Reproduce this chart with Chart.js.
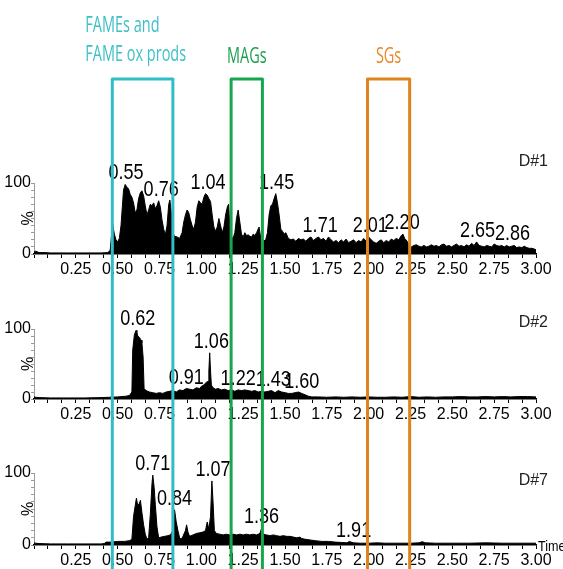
<!DOCTYPE html>
<html>
<head>
<meta charset="utf-8">
<script src="https://cdn.jsdelivr.net/npm/chart.js@4.4.1/dist/chart.umd.min.js"></script>
<style>
  html, body { margin: 0; padding: 0; background: #fff; }
  #wrap { position: relative; width: 563px; height: 569px; overflow: hidden; }
  #wrap canvas { position: absolute; left: 0; top: 0; }
</style>
</head>
<body>
<div id="wrap">
  <canvas id="c1" width="563" height="569"></canvas>
  <canvas id="c2" width="563" height="569"></canvas>
  <canvas id="c3" width="563" height="569"></canvas>
</div>
<script>
// ---- data: [retention time (min), relative intensity (%)] ----
const d1Trace = [
  [0.00,3],[0.01,4],[0.02,3],[0.03,2],[0.06,2],[0.10,1.5],[0.20,1.5],[0.30,1.5],[0.40,1.5],[0.44,2],
  [0.455,5],[0.465,30],[0.47,42],[0.48,28],[0.49,20],[0.50,17],[0.51,22],[0.52,40],[0.535,90],[0.545,98],
  [0.555,94],[0.565,92],[0.575,84],[0.585,80],[0.595,72],[0.605,58],[0.615,62],[0.625,78],[0.635,86],[0.645,89],
  [0.655,82],[0.665,68],[0.675,55],[0.685,62],[0.695,70],[0.705,68],[0.715,72],[0.725,64],[0.735,68],[0.745,75],
  [0.755,66],[0.765,48],[0.775,35],[0.785,27],[0.795,40],[0.805,70],[0.812,76],[0.82,60],[0.83,30],[0.84,25],
  [0.855,24],[0.87,22],[0.885,30],[0.895,45],[0.905,55],[0.915,62],[0.925,58],[0.935,48],[0.945,40],[0.955,35],
  [0.965,45],[0.975,66],[0.985,75],[0.995,72],[1.005,70],[1.015,80],[1.025,85],[1.035,83],[1.045,78],[1.055,74],
  [1.065,55],[1.075,38],[1.085,32],[1.095,38],[1.105,50],[1.115,40],[1.125,30],[1.135,38],[1.145,55],[1.155,66],
  [1.163,70],[1.17,40],[1.18,24],[1.19,22],[1.20,30],[1.21,50],[1.22,62],[1.23,45],[1.24,28],[1.25,24],
  [1.26,30],[1.27,26],[1.28,27],[1.29,25],[1.30,24],[1.31,28],[1.32,26],[1.33,30],[1.345,38],[1.355,22],
  [1.37,18],[1.385,20],[1.395,30],[1.405,55],[1.415,68],[1.425,70],[1.435,78],[1.445,85],[1.455,72],[1.465,55],
  [1.475,35],[1.485,32],[1.495,28],[1.505,30],[1.52,22],[1.535,20],[1.55,21],[1.565,18],[1.58,22],[1.595,20],
  [1.61,21],[1.625,18],[1.64,22],[1.655,24],[1.67,19],[1.685,22],[1.70,24],[1.715,20],[1.73,22],[1.745,18],
  [1.76,24],[1.775,20],[1.79,17],[1.805,19],[1.82,16],[1.835,20],[1.85,17],[1.865,21],[1.88,16],[1.895,18],
  [1.91,20],[1.925,16],[1.94,19],[1.955,17],[1.97,22],[1.985,18],[2.00,24],[2.015,20],[2.03,17],[2.045,15],
  [2.06,18],[2.075,20],[2.09,16],[2.105,19],[2.12,17],[2.135,21],[2.15,19],[2.165,22],[2.18,20],[2.195,26],
  [2.205,28],[2.215,22],[2.23,18],[2.24,12],[2.255,10],[2.27,12],[2.285,13],[2.30,11],[2.315,10],[2.33,12],
  [2.345,10],[2.36,11],[2.375,13],[2.39,11],[2.405,12],[2.42,10],[2.435,13],[2.45,14],[2.465,11],[2.48,12],
  [2.495,10],[2.51,12],[2.525,14],[2.54,11],[2.555,12],[2.57,10],[2.585,13],[2.60,11],[2.615,15],[2.63,12],
  [2.645,17],[2.66,12],[2.675,11],[2.69,10],[2.705,12],[2.72,11],[2.735,10],[2.75,14],[2.765,12],[2.78,11],
  [2.795,12],[2.81,10],[2.825,12],[2.84,10],[2.855,11],[2.87,12],[2.885,9],[2.90,10],[2.915,9],[2.93,11],
  [2.945,9],[2.96,8],[2.975,8],[2.99,7],[3.00,6]
];
const d2Trace = [
  [0.00,3],[0.01,2.5],[0.03,2],[0.10,1.5],[0.20,1.5],[0.30,1.5],[0.40,2],[0.45,2.5],[0.50,3],[0.55,4],
  [0.57,5],[0.585,10],[0.59,70],[0.60,92],[0.61,98],[0.615,95],[0.62,90],[0.63,88],[0.64,84],[0.645,80],
  [0.652,60],[0.658,15],[0.67,12],[0.69,10],[0.71,9],[0.73,8],[0.75,9],[0.77,8],[0.79,10],[0.81,11],
  [0.83,12],[0.85,10],[0.87,13],[0.89,12],[0.91,15],[0.93,14],[0.95,13],[0.97,16],[0.99,15],[1.00,18],
  [1.015,20],[1.03,24],[1.04,25],[1.045,40],[1.05,66],[1.055,40],[1.06,20],[1.07,16],[1.085,14],[1.10,15],
  [1.12,13],[1.14,14],[1.16,12],[1.18,13],[1.20,11],[1.22,13],[1.24,12],[1.26,13],[1.28,12],[1.30,11],
  [1.32,12],[1.34,10],[1.36,11],[1.38,10],[1.40,11],[1.42,12],[1.44,9],[1.46,12],[1.48,10],[1.50,9],
  [1.52,8],[1.54,8],[1.56,9],[1.58,10],[1.60,8],[1.62,6],[1.64,4],[1.66,3],[1.70,3],[1.75,2.5],
  [1.80,3],[1.85,2.5],[1.90,3],[1.95,2.5],[2.00,3],[2.05,2.5],[2.10,2.5],[2.15,3],[2.20,2.5],[2.25,3.5],
  [2.30,2.5],[2.35,3],[2.40,2.5],[2.45,3],[2.50,3],[2.55,3.5],[2.60,3],[2.65,3],[2.70,3.5],[2.75,3],
  [2.80,3.5],[2.85,3],[2.90,3.5],[2.95,3.5],[3.00,3]
];
const d7Trace = [
  [0.00,3],[0.01,2.5],[0.03,2],[0.10,1.5],[0.20,1.5],[0.30,1.5],[0.40,1.5],[0.42,2],[0.43,4],[0.46,4],
  [0.50,5],[0.54,5],[0.57,6],[0.585,8],[0.595,40],[0.605,55],[0.612,65],[0.62,55],[0.63,58],[0.636,62],
  [0.645,45],[0.655,28],[0.665,15],[0.675,8],[0.685,10],[0.695,42],[0.705,85],[0.71,97],[0.718,80],[0.725,56],
  [0.735,25],[0.745,10],[0.76,11],[0.78,12],[0.80,13],[0.815,14],[0.83,20],[0.84,49],[0.85,32],[0.86,20],
  [0.87,10],[0.88,8],[0.89,12],[0.905,20],[0.912,28],[0.92,18],[0.93,12],[0.95,14],[0.97,16],[0.99,17],
  [1.01,18],[1.025,20],[1.035,32],[1.045,22],[1.055,40],[1.063,89],[1.07,60],[1.078,20],[1.09,16],[1.11,15],
  [1.13,14],[1.15,15],[1.17,14],[1.19,15],[1.21,14],[1.23,15],[1.25,14],[1.27,15],[1.29,14],[1.31,15],
  [1.33,14],[1.35,16],[1.36,23],[1.37,15],[1.39,14],[1.41,13],[1.43,14],[1.45,13],[1.47,12],[1.49,13],
  [1.51,12],[1.53,12],[1.55,11],[1.57,10],[1.59,11],[1.60,9],[1.62,8],[1.65,7],[1.68,6],[1.72,5],
  [1.76,5],[1.80,4],[1.84,3.5],[1.87,3],[1.885,5],[1.895,4],[1.91,3],[1.95,2.5],[2.00,2.5],[2.05,3],
  [2.10,2.5],[2.15,2.5],[2.20,2.5],[2.25,2.5],[2.30,3],[2.32,4.5],[2.34,3],[2.40,2.5],[2.50,2.5],[2.60,2.5],
  [2.70,3],[2.80,2.5],[2.90,2.5],[3.00,2.5]
];

// labelled peak retention times
const d1Peaks = [0.55, 0.76, 1.04, 1.45, 1.71, 2.01, 2.20, 2.65, 2.86];
const d2Peaks = [0.62, 0.91, 1.06, 1.22, 1.43, 1.60];
const d7Peaks = [0.71, 0.84, 1.07, 1.36, 1.91];

// sample names
const sampleNames = ['D#1', 'D#2', 'D#7'];

// axis tick labels
const xTickLabels = ['0.25','0.50','0.75','1.00','1.25','1.50','1.75','2.00','2.25','2.50','2.75','3.00'];
const yTickLabels = [0, 100];

// retention windows of compound classes (min)
const windowRanges = [[0.468, 0.830], [1.178, 1.365], [1.993, 2.245]];
const windowTitles = [['FAMEs and', 'FAME ox prods'], ['MAGs'], ['SGs']];

// ---- styling ----
const NARROW = "'Liberation Sans Narrow', 'Arial Narrow', 'Liberation Sans', sans-serif";
const TITLE_FONT = "'Open Sans', 'Lato', sans-serif";
const windowStroke = ['#30bdc6', '#17a64d', '#df831c'];
const windowText = ['#3ec0c8', '#1a9f4f', '#e8892a'];
const W = 563, H = 569, AXIS_H = 24, PLOT_LEFT = 34, PLOT_RIGHT = 536;
const panels = [
  { top: 183, bottom: 254, nameY: 166 },
  { top: 329, bottom: 399, nameY: 327 },
  { top: 473, bottom: 545, nameY: 485 }
];

const peakLabels = {
  id: 'peakLabels',
  afterDatasetsDraw(chart, args, opts) {
    const { ctx, scales: { x, y } } = chart;
    const pts = chart.data.datasets[0].data;
    opts.times.forEach(t => {
      let top = 0;
      pts.forEach(p => { if (Math.abs(p.x - t) <= 0.016) top = Math.max(top, p.y); });
      const px = x.getPixelForValue(t);
      const py = y.getPixelForValue(top) - 5;
      ctx.save();
      ctx.translate(px, py);
      ctx.scale(0.82, 1);
      ctx.font = '22px ' + NARROW;
      ctx.fillStyle = '#000';
      ctx.textAlign = 'center';
      ctx.textBaseline = 'alphabetic';
      ctx.fillText(t.toFixed(2), 0, 0);
      ctx.restore();
    });
  }
};

const panelText = {
  id: 'panelText',
  afterDraw(chart, args, opts) {
    const { ctx, chartArea: a } = chart;
    ctx.save();
    // y-axis unit
    ctx.translate(a.left - 5, (a.top + a.bottom) / 2);
    ctx.rotate(-Math.PI / 2);
    ctx.font = '16px ' + NARROW;
    ctx.fillStyle = '#000';
    ctx.textAlign = 'center';
    ctx.textBaseline = 'middle';
    ctx.fillText('%', 0, 0);
    ctx.restore();
    // sample name
    ctx.save();
    ctx.font = '16px ' + NARROW;
    ctx.fillStyle = '#222';
    ctx.textAlign = 'right';
    ctx.textBaseline = 'alphabetic';
    ctx.fillText(opts.name, 548, opts.nameY);
    ctx.restore();
    if (opts.time) {
      ctx.save();
      ctx.translate(a.right + 2, a.bottom + 6);
      ctx.scale(0.84, 1);
      ctx.font = '15px ' + NARROW;
      ctx.fillStyle = '#000';
      ctx.textAlign = 'left';
      ctx.textBaseline = 'alphabetic';
      ctx.fillText('Time', 0, 0);
      ctx.restore();
    }
  }
};

const windowBoxes = {
  id: 'windowBoxes',
  afterDraw(chart) {
    const { ctx, scales: { x } } = chart;
    const top = 79;
    windowRanges.forEach(([from, to], i) => {
      const l = x.getPixelForValue(from), r = x.getPixelForValue(to);
      ctx.save();
      ctx.strokeStyle = windowStroke[i];
      ctx.lineWidth = 3;
      ctx.lineJoin = 'round';
      ctx.beginPath();
      ctx.moveTo(l, H + 10);
      ctx.lineTo(l, top);
      ctx.lineTo(r, top);
      ctx.lineTo(r, H + 10);
      ctx.stroke();
      // title
      ctx.font = '21px ' + TITLE_FONT;
      ctx.fillStyle = windowText[i];
      ctx.textBaseline = 'alphabetic';
      const lines = windowTitles[i];
      if (lines.length > 1) {
        lines.forEach((s, k) => {
          ctx.save();
          ctx.translate(l - 27, 32 + k * 29);
          ctx.scale(0.69, 1);
          ctx.textAlign = 'left';
          ctx.fillText(s, 0, 0);
          ctx.restore();
        });
      } else {
        ctx.translate((l + r) / 2, 63);
        ctx.scale(0.69, 1);
        ctx.textAlign = 'center';
        ctx.fillText(lines[0], 0, 0);
      }
      ctx.restore();
    });
  }
};

function makeChart(id, trace, peaks, idx, extra) {
  const p = panels[idx];
  return new Chart(document.getElementById(id), {
    type: 'line',
    data: {
      datasets: [{
        data: trace.map(([t, v]) => ({ x: t, y: v })),
        borderColor: '#000',
        backgroundColor: '#000',
        borderWidth: 1,
        pointRadius: 0,
        tension: 0,
        fill: 'origin'
      }]
    },
    options: {
      responsive: false,
      animation: false,
      devicePixelRatio: 1,
      layout: { padding: { top: p.top, bottom: H - p.bottom - AXIS_H, left: 0, right: W - PLOT_RIGHT } },
      plugins: {
        legend: { display: false },
        tooltip: { enabled: false },
        peakLabels: { times: peaks },
        panelText: { name: sampleNames[idx], nameY: p.nameY, time: idx === 2 }
      },
      scales: {
        x: {
          type: 'linear', min: 0, max: 3,
          afterFit(s) { s.height = AXIS_H; },
          afterBuildTicks(s) {
            const t = [];
            for (let i = 0; i <= 36; i++) t.push({ value: i / 12 });
            s.ticks = t;
          },
          border: { color: '#000', width: 1.5 },
          grid: { drawOnChartArea: false, drawTicks: true, tickLength: 4, color: '#000', lineWidth: 1 },
          ticks: {
            autoSkip: false, maxRotation: 0, minRotation: 0, padding: 2, color: '#000',
            font: { family: NARROW, size: 16 },
            callback(v) {
              const hit = xTickLabels.find(l => Math.abs(parseFloat(l) - v) < 1e-6);
              return hit || '';
            }
          }
        },
        y: {
          min: 0, max: 100,
          afterFit(s) { s.width = PLOT_LEFT; },
          border: { color: '#9a9a9a', width: 1 },
          grid: { drawOnChartArea: false, tickLength: 3, color: '#9a9a9a' },
          ticks: {
            stepSize: 10, autoSkip: false, padding: 0, color: '#000',
            font: { family: NARROW, size: 16 },
            callback(v) { return yTickLabels.includes(v) ? String(v) : ''; }
          }
        }
      }
    },
    plugins: [peakLabels, panelText].concat(extra || [])
  });
}

makeChart('c1', d1Trace, d1Peaks, 0);
makeChart('c2', d2Trace, d2Peaks, 1);
makeChart('c3', d7Trace, d7Peaks, 2, [windowBoxes]);
</script>
</body>
</html>
